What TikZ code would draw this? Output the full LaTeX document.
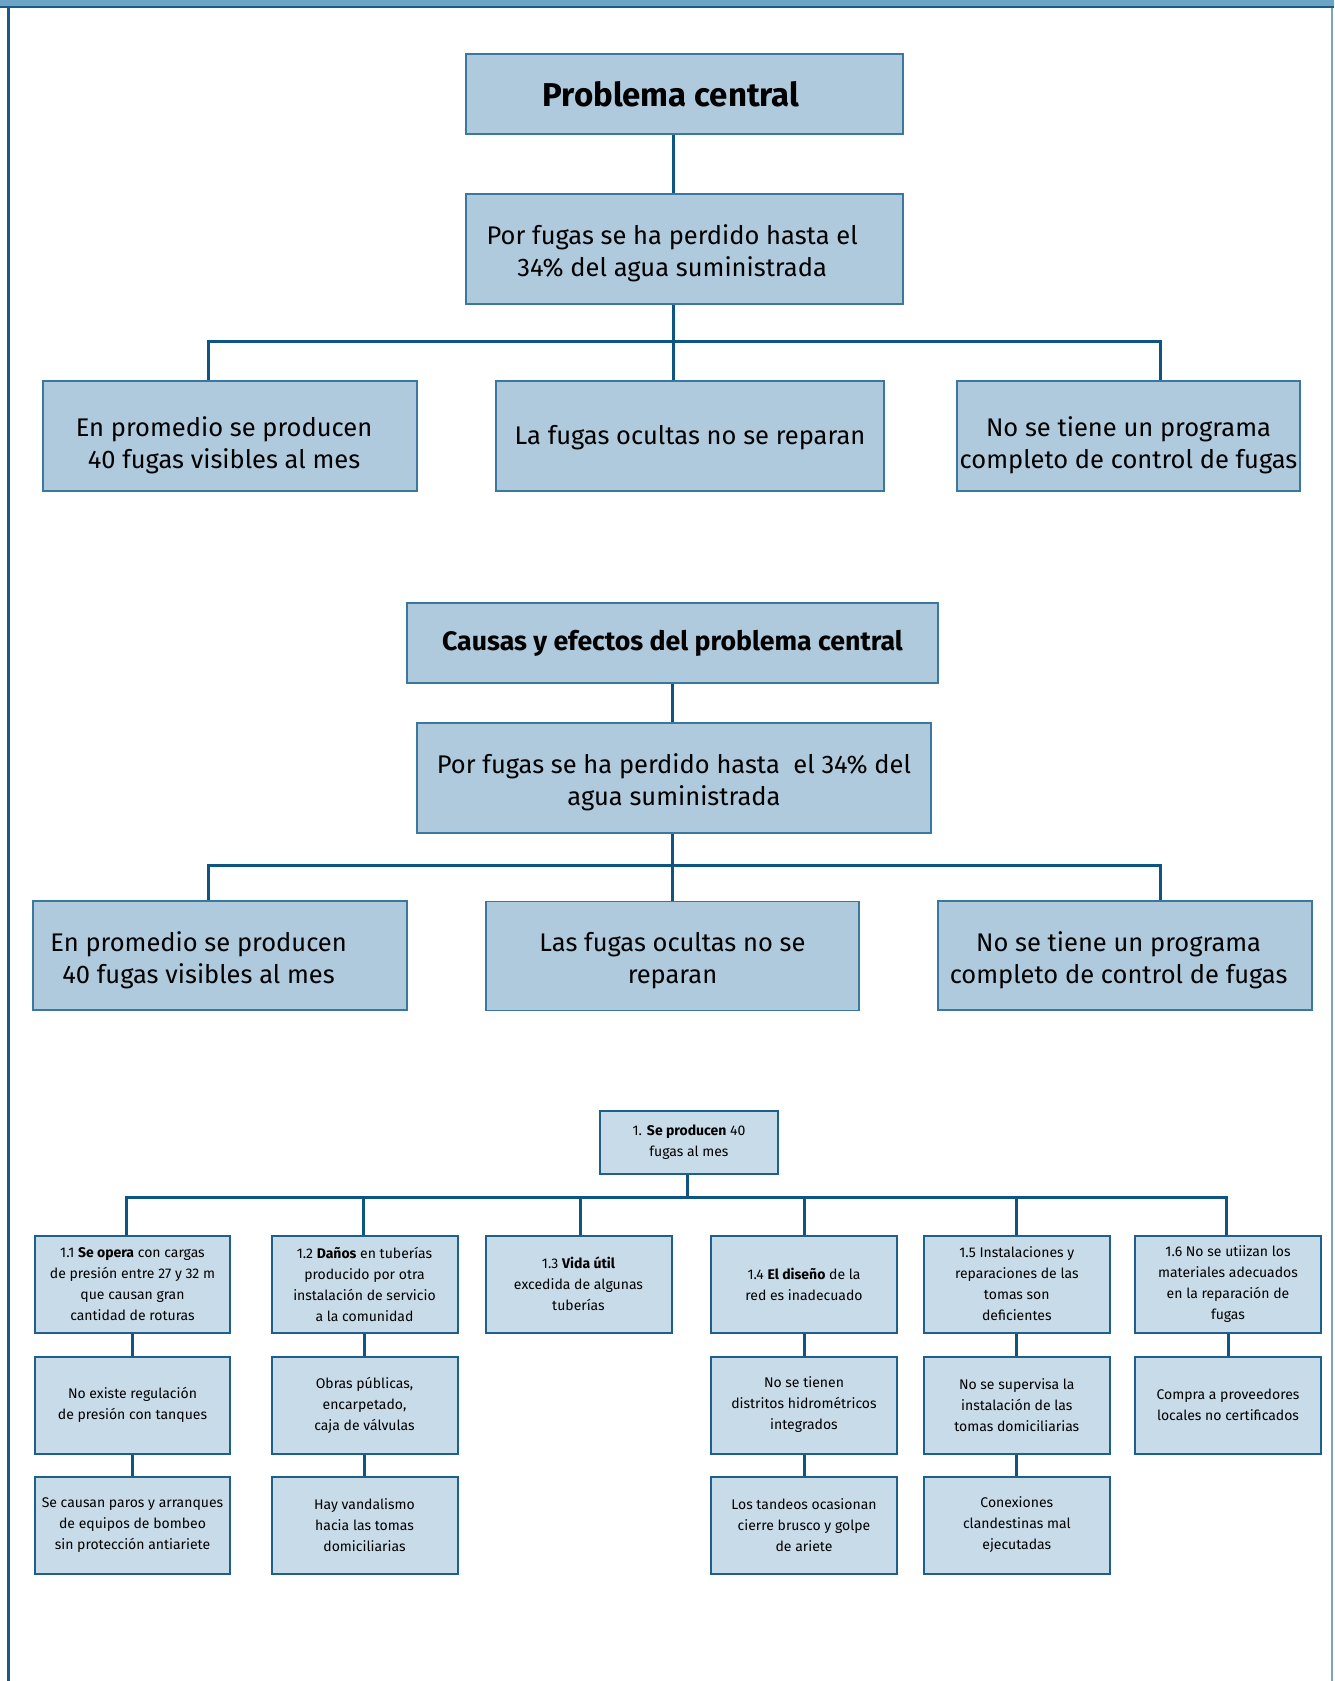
\documentclass[tikz,border=0pt]{standalone}
\usepackage{fontspec}
\setmainfont{Fira Sans}
\definecolor{boxfill}{HTML}{AECADC}
\definecolor{boxedge}{HTML}{3A78A0}
\definecolor{smallfill}{HTML}{C8DBE8}
\definecolor{smalledge}{HTML}{1E5F8C}
\definecolor{connc}{HTML}{0E5582}
\definecolor{bandc}{HTML}{6BA4C5}
\definecolor{framedark}{HTML}{1B5A86}
\definecolor{frameright}{HTML}{7FA3BC}
\begin{document}
\begin{tikzpicture}[x=1pt,y=-1pt,
  bigbox/.style={draw=boxedge, fill=boxfill, line width=1.2pt, inner sep=0pt},
  bigtext/.style={inner sep=0pt, align=center, font=\fontsize{25.5}{32}\selectfont},
  smallbox/.style={draw=smalledge, fill=smallfill, line width=2pt, minimum width=186pt, minimum height=97pt, inner sep=0pt, align=center, font=\fontsize{14}{21}\selectfont},
  conn/.style={draw=connc, line width=3pt}]
\useasboundingbox (0,0) rectangle (1334,1681);
% frame
\fill[bandc] (0,0) rectangle (1334,5.5);
\fill[framedark] (0,5.5) rectangle (1334,7.5);
\fill[framedark] (6.5,5.5) rectangle (9.5,1681);
\fill[frameright] (1330.5,7.5) rectangle (1333,1681);

% ---------- section 1
\node[bigbox, minimum width=437pt, minimum height=80pt] (A) at (684.5,94) {};
\node[bigtext, font=\fontsize{33}{38}\selectfont\bfseries] (At) at (671,94) {Problema central};
\node[bigbox, minimum width=437pt, minimum height=110pt] (B) at (684.5,249) {};
\node[bigtext] (Bt) at (672.2,253.3) {Por fugas se ha perdido hasta el\\34\% del agua suministrada};
\node[bigbox, minimum width=374pt, minimum height=110pt] (C1) at (230,436) {};
\node[bigtext] (C1t) at (224,445.6) {En promedio se producen\\40 fugas visibles al mes};
\node[bigbox, minimum width=388pt, minimum height=110pt] (C2) at (690,436) {};
\node[bigtext] (C2t) at (690,438) {La fugas ocultas no se reparan};
\node[bigbox, minimum width=343pt, minimum height=110pt] (C3) at (1128.5,436) {};
\node[bigtext] (C3t) at (1128.5,445.6) {No se tiene un programa\\completo de control de fugas};
\coordinate (b1L) at (208.3,341.7);
\coordinate (b1M) at (673.5,341.7);
\coordinate (b1R) at (1160,341.7);
\draw[conn] (A.south -| b1M) -- (B.north -| b1M);
\draw[conn] (B.south -| b1M) -- (b1M);
\draw[conn] (C1.north -| b1L) -- (b1L) -- (b1R) -- (C3.north -| b1R);
\draw[conn] (b1M) -- (C2.north -| b1M);

% ---------- section 2
\node[bigbox, minimum width=531pt, minimum height=80pt] (D) at (672.5,643) {};
\node[bigtext, font=\fontsize{26.7}{32}\selectfont\bfseries] (Dt) at (672.5,643) {Causas y efectos del problema central};
\node[bigbox, minimum width=514pt, minimum height=110pt] (E) at (674,778) {};
\node[bigtext] (Et) at (674,782.3) {Por fugas se ha perdido hasta~ el 34\% del\\agua suministrada};
\node[bigbox, minimum width=374pt, minimum height=109pt] (F1) at (220,955.5) {};
\node[bigtext] (F1t) at (198.6,959.8) {En promedio se producen\\40 fugas visibles al mes};
\node[bigbox, minimum width=373pt, minimum height=109pt] (F2) at (672.5,956) {};
\node[bigtext] (F2t) at (672.5,960.3) {Las fugas ocultas no se\\reparan};
\node[bigbox, minimum width=374pt, minimum height=109pt] (F3) at (1125,955.5) {};
\node[bigtext] (F3t) at (1118.6,959.8) {No se tiene un programa\\completo de control de fugas};
\coordinate (b2L) at (208.3,865.3);
\coordinate (b2M) at (672.3,865.3);
\coordinate (b2R) at (1160.3,865.3);
\draw[conn] (D.south -| b2M) -- (E.north -| b2M);
\draw[conn] (E.south -| b2M) -- (b2M);
\draw[conn] (F1.north -| b2L) -- (b2L) -- (b2R) -- (F3.north -| b2R);
\draw[conn] (b2M) -- (F2.north -| b2M);

% ---------- section 3
\node[smallbox, minimum width=178pt, minimum height=63pt] (G) at (689,1142.5) {1. \textbf{Se producen} 40\\fugas al mes};
\node[smallbox, minimum width=195pt] (H1) at (132.5,1284) {1.1 \textbf{Se opera} con cargas\\de presión entre 27 y 32 m\\que causan gran\\cantidad de roturas};
\node[smallbox] (H2) at (364.5,1284) {1.2 \textbf{Daños} en tuberías\\producido por otra\\instalación de servicio\\a la comunidad};
\node[smallbox] (H3) at (578.5,1284) {1.3 \textbf{Vida útil}\\excedida de algunas\\tuberías};
\node[smallbox] (H4) at (804,1284) {1.4 \textbf{El diseño} de la\\red es inadecuado};
\node[smallbox] (H5) at (1016.8,1284) {1.5 Instalaciones y\\reparaciones de las\\tomas son\\deficientes};
\node[smallbox] (H6) at (1228,1284) {1.6 No se utiizan los\\materiales adecuados\\en la reparación de\\fugas};

\node[smallbox, minimum width=195pt] (H1b) at (132.5,1405) {No existe regulación\\de presión con tanques};
\node[smallbox] (H2b) at (364.5,1405) {Obras públicas,\\encarpetado,\\caja de válvulas};
\node[smallbox] (H4b) at (804,1405) {No se tienen\\distritos hidrométricos\\integrados};
\node[smallbox] (H5b) at (1016.8,1405) {No se supervisa la\\instalación de las\\tomas domiciliarias};
\node[smallbox] (H6b) at (1228,1405) {Compra a proveedores\\locales no certificados};

\node[smallbox, minimum width=195pt] (H1c) at (132.5,1525) {Se causan paros y arranques\\de equipos de bombeo\\sin protección antiariete};
\node[smallbox] (H2c) at (364.5,1525) {Hay vandalismo\\hacia las tomas\\domiciliarias};
\node[smallbox] (H4c) at (804,1525) {Los tandeos ocasionan\\cierre brusco y golpe\\de ariete};
\node[smallbox] (H5c) at (1016.8,1525) {Conexiones\\clandestinas mal\\ejecutadas};

\coordinate (b3L) at (126.7,1197.7);
\coordinate (b3M) at (687.7,1197.7);
\coordinate (b3R) at (1226.7,1197.7);
\coordinate (d2) at (363.3,1197.7);
\coordinate (d3) at (580.7,1197.7);
\coordinate (d4) at (804.3,1197.7);
\coordinate (d5) at (1016.3,1197.7);
\draw[conn] (G.south -| b3M) -- (b3M);
\draw[conn] (H1.north -| b3L) -- (b3L) -- (b3R) -- (H6.north -| b3R);
\draw[conn] (d2) -- (H2.north -| d2);
\draw[conn] (d3) -- (H3.north -| d3);
\draw[conn] (d4) -- (H4.north -| d4);
\draw[conn] (d5) -- (H5.north -| d5);

\draw[conn] (H1.south) -- (H1b.north);
\draw[conn] (H1b.south) -- (H1c.north);
\draw[conn] (H2.south) -- (H2b.north);
\draw[conn] (H2b.south) -- (H2c.north);
\draw[conn] (H4.south) -- (H4b.north);
\draw[conn] (H4b.south) -- (H4c.north);
\draw[conn] (H5.south) -- (H5b.north);
\draw[conn] (H5b.south) -- (H5c.north);
\draw[conn] (H6.south) -- (H6b.north);
\end{tikzpicture}
\end{document}
